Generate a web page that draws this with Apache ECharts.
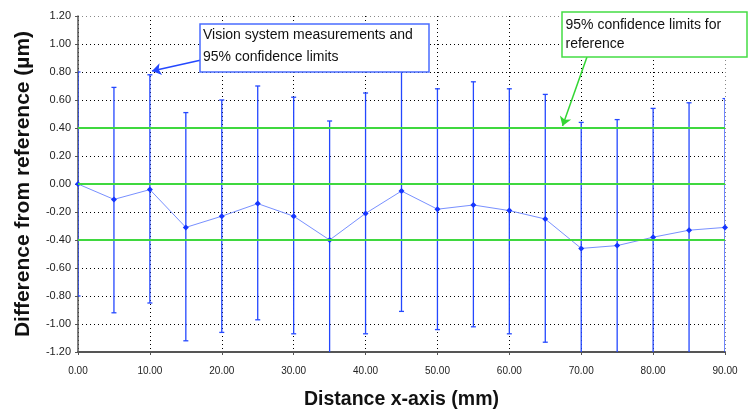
<!DOCTYPE html>
<html><head><meta charset="utf-8">
<script src="https://cdn.jsdelivr.net/npm/echarts@6/dist/echarts.min.js"></script>
<style>html,body{margin:0;padding:0;background:#fff}#c{width:751px;height:410px}</style>
</head><body><div id="c"></div>
<script>
const distances   = [0, 5, 10, 15, 20, 25, 30, 35, 40, 45, 50, 55, 60, 65, 70, 75, 80, 85, 90];
const differences = [0.00, -0.11, -0.04, -0.31, -0.23, -0.14, -0.23, -0.40, -0.21, -0.05, -0.18, -0.15, -0.19, -0.25, -0.46, -0.44, -0.38, -0.33, -0.31];
const upperLimits = [0.80, 0.69, 0.78, 0.51, 0.60, 0.70, 0.62, 0.45, 0.65, 0.82, 0.68, 0.73, 0.68, 0.64, 0.44, 0.46, 0.54, 0.58, 0.61];
const lowerLimits = [-0.80, -0.92, -0.85, -1.12, -1.06, -0.97, -1.07, -1.24, -1.07, -0.91, -1.04, -1.02, -1.07, -1.13, -1.36, -1.35, -1.29, -1.24, -1.22];
const referenceLimits = [0.40, 0.00, -0.40];
const xTitle = 'Distance x-axis (mm)';
const yTitle = 'Difference from reference (µm)';
const note1 = ['Vision system measurements and', '95% confidence limits'];
const note2 = ['95% confidence limits for', 'reference'];
const arrow1 = [[17.0, 0.884], [10.3, 0.807]];
const arrow2 = [[70.8, 0.907], [67.4, 0.414]];

const FONT = 'Arial, "Liberation Sans", sans-serif';
const chart = echarts.init(document.getElementById('c'), null, {renderer: 'canvas'});

const ySplitColors = [];
for (let i = 0; i < 13; i++) ySplitColors.push(i === 12 ? '#888' : '#000');
const xSplitColors = [];
for (let i = 0; i < 10; i++) xSplitColors.push(i === 9 ? '#888' : '#000');

const errData = distances.map((d, i) => [d, lowerLimits[i], upperLimits[i]]);
const lineData = distances.map((d, i) => [d, differences[i]]);

chart.setOption({
  animation: false,
  backgroundColor: '#fff',
  grid: {left: 78, right: 26, top: 16, bottom: 58, containLabel: false, outerBoundsMode: 'none'},
  xAxis: {
    type: 'value', min: 0, max: 90, interval: 10,
    name: xTitle, nameLocation: 'middle', nameGap: 38,
    nameTextStyle: {fontFamily: FONT, fontWeight: 'bold', fontSize: 19.5, color: '#111'},
    axisLine: {show: true, onZero: false, lineStyle: {color: '#555', width: 2}},
    axisTick: {show: true, length: 3, lineStyle: {color: '#555'}},
    axisLabel: {fontFamily: FONT, fontSize: 10, color: '#222', margin: 14, formatter: v => v.toFixed(2)},
    splitLine: {show: true, lineStyle: {color: xSplitColors, type: [1, 3], width: 1}}
  },
  yAxis: {
    type: 'value', min: -1.2, max: 1.2, interval: 0.2,
    name: yTitle, nameLocation: 'middle', nameGap: 44, nameRotate: 90,
    nameTextStyle: {fontFamily: FONT, fontWeight: 'bold', fontSize: 21, color: '#111'},
    axisLine: {show: true, onZero: false, lineStyle: {color: '#555', width: 1.5}},
    axisTick: {show: true, length: 3, lineStyle: {color: '#555'}},
    axisLabel: {fontFamily: FONT, fontSize: 11, color: '#222', margin: 7, formatter: v => v.toFixed(2)},
    splitLine: {show: true, lineStyle: {color: ySplitColors, type: [1, 3], width: 1}}
  },
  series: [
    {
      type: 'line', data: [], silent: true,
      markLine: {
        silent: true, symbol: 'none', animation: false,
        label: {show: false},
        lineStyle: {color: '#3fd83f', width: 2, type: 'solid'},
        data: referenceLimits.map(v => ({yAxis: v}))
      }
    },
    {
      type: 'custom', data: errData, clip: true, z: 3,
      renderItem: function (params, api) {
        const x = api.value(0), lo = api.value(1), hi = api.value(2);
        const pLo = api.coord([x, lo]);
        const pHi = api.coord([x, hi]);
        const w = 2.5;
        const style = {stroke: '#2448ff', lineWidth: 1.3};
        return {type: 'group', children: [
          {type: 'line', shape: {x1: pLo[0], y1: pLo[1], x2: pHi[0], y2: pHi[1]}, style: style},
          {type: 'line', shape: {x1: pHi[0] - w, y1: pHi[1], x2: pHi[0] + w, y2: pHi[1]}, style: style},
          {type: 'line', shape: {x1: pLo[0] - w, y1: pLo[1], x2: pLo[0] + w, y2: pLo[1]}, style: style}
        ]};
      }
    },
    {
      type: 'line', data: lineData, z: 4,
      lineStyle: {color: '#7890ff', width: 1},
      symbol: 'diamond', symbolSize: 6,
      itemStyle: {color: '#1535ff'}
    },
    {
      type: 'line', data: [], silent: true, z: 6,
      markLine: {
        silent: true, animation: false, label: {show: false},
        symbolSize: 9,
        data: [
          [{coord: arrow1[0], symbol: 'none', lineStyle: {color: '#2448ff', width: 1.5, type: 'solid'}},
           {coord: arrow1[1], symbol: 'arrow'}],
          [{coord: arrow2[0], symbol: 'none', lineStyle: {color: '#33d633', width: 1.5, type: 'solid'}},
           {coord: arrow2[1], symbol: 'arrow'}]
        ]
      }
    }
  ],
  graphic: [
    {type: 'rect', z: 100, shape: {x: 200, y: 24, width: 229, height: 48},
     style: {fill: '#fff', stroke: '#4a6cff', lineWidth: 1.5}},
    {type: 'text', z: 101, x: 203, y: 35.5, style: {text: note1[0], font: '14px ' + FONT, fill: '#111', verticalAlign: 'middle'}},
    {type: 'text', z: 101, x: 203, y: 57.5, style: {text: note1[1], font: '14px ' + FONT, fill: '#111', verticalAlign: 'middle'}},
    {type: 'rect', z: 100, shape: {x: 562, y: 12, width: 185, height: 45},
     style: {fill: '#fff', stroke: '#44dd44', lineWidth: 1.5}},
    {type: 'text', z: 101, x: 565.5, y: 25, style: {text: note2[0], font: '14px ' + FONT, fill: '#111', verticalAlign: 'middle'}},
    {type: 'text', z: 101, x: 565.5, y: 44.5, style: {text: note2[1], font: '14px ' + FONT, fill: '#111', verticalAlign: 'middle'}}
  ]
});
</script>
</body></html>
